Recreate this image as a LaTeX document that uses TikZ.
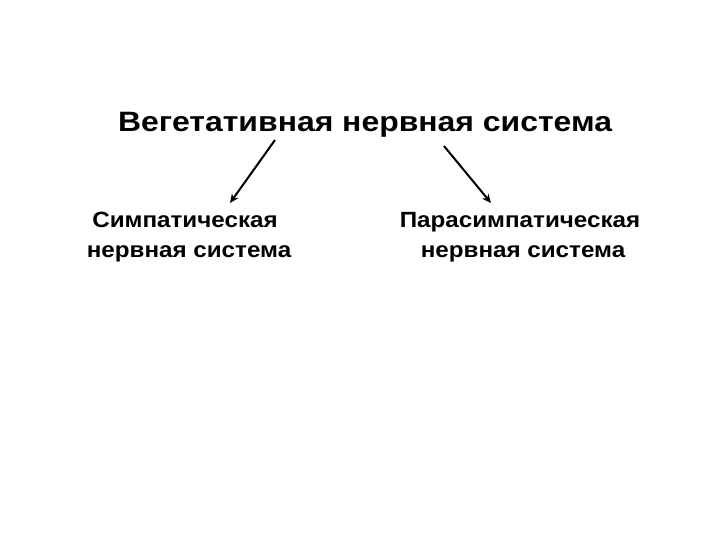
\documentclass[tikz,border=0pt]{standalone}
\usepackage{fontspec}
\setmainfont{Liberation Sans}
\newfontfamily\titlefont[FakeStretch=1.14]{Liberation Sans}
\newfontfamily\subfont[FakeStretch=1.1]{Liberation Sans}
\usetikzlibrary{arrows.meta}
\begin{document}
\begin{tikzpicture}[x=1bp,y=-1bp,
  titletext/.style={font=\fontsize{28bp}{32bp}\titlefont\bfseries, inner sep=0pt, anchor=base},
  subtext/.style={font=\fontsize{22bp}{30bp}\subfont\bfseries, inner sep=0pt, anchor=base},
  arr/.style={-{Stealth[length=9bp,width=8bp]}, line width=2bp}]
\useasboundingbox[fill=white] (0,0) rectangle (720,540);
\node[titletext] (title) at (365,132) {Вегетативная нервная система};
\node[subtext] (sym1) at (185,228) {Симпатическая};
\node[subtext] (sym2) at (189,258) {нервная система};
\node[subtext] (par1) at (520,228) {Парасимпатическая};
\node[subtext] (par2) at (523,258) {нервная система};
\coordinate (la) at (275,140);
\coordinate (lb) at (230,203);
\coordinate (ra) at (444,146);
\coordinate (rb) at (491,203);
\draw[arr] (la) -- (lb);
\draw[arr] (ra) -- (rb);
\end{tikzpicture}
\end{document}
